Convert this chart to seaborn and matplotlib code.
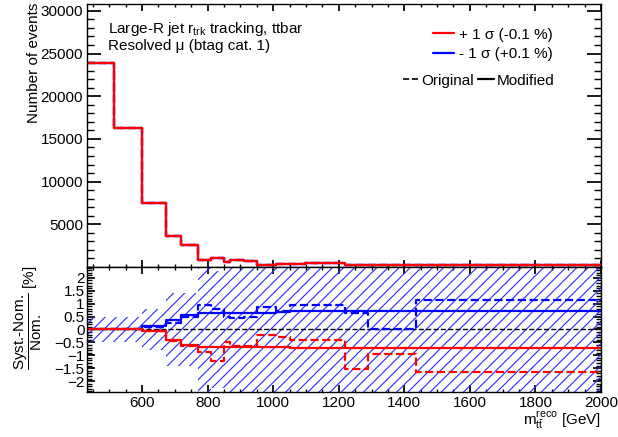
import numpy as np
import pandas as pd
import matplotlib
matplotlib.use("Agg")
import matplotlib.pyplot as plt
from matplotlib.ticker import MultipleLocator, FixedLocator, FuncFormatter
from matplotlib.lines import Line2D
import seaborn as sns

# bin edges of m_tt reco [GeV]
edges = [433, 514, 600, 672, 720, 770, 811, 851, 869, 910, 952, 1008, 1052, 1098, 1218, 1288, 1435, 2000]
# events per bin (nominal / variations overlap in the upper pad)
counts = [23850, 16310, 7530, 3630, 2580, 820, 1090, 550, 780, 670, 270, 320, 320, 500, 200, 200, 180]

# (Syst - Nom) / Nom [%]
up_modified = [0, 0, -0.05, -0.40, -0.60, -0.66, -0.66, -0.66, -0.67, -0.67, -0.68, -0.68, -0.70, -0.70, -0.73, -0.73, -0.73]
up_original = [0, 0, -0.07, -0.43, -0.63, -0.89, -1.21, -0.47, -0.62, -0.62, -0.20, -0.30, -0.39, -0.39, -1.54, -0.93, -1.64]
down_modified = [0, 0, 0.12, 0.35, 0.57, 0.63, 0.63, 0.64, 0.64, 0.65, 0.65, 0.66, 0.72, 0.72, 0.70, 0.70, 0.70]
down_original = [0, 0, 0.09, 0.25, 0.50, 0.94, 0.81, 0.50, 0.44, 0.50, 0.86, 0.72, 0.95, 0.95, 0.65, 0.0, 1.16]
# stat. uncertainty band (half width, %)
stat_band = [0.5, 0.48, 0.8, 1.4, 1.4, 3.0, 2.25, 3.0, 3.0, 3.0, 3.0, 3.0, 3.0, 3.0, 3.0, 3.0, 3.0]

legend_labels = ["+ 1 \u03c3 (-0.1 %)", "- 1 \u03c3 (+0.1 %)"]

sns.set_theme(style="ticks")
plt.rcParams["font.family"] = ["Liberation Sans", "DejaVu Sans"]
plt.rcParams["mathtext.fontset"] = "custom"
plt.rcParams["mathtext.rm"] = "Liberation Sans"
plt.rcParams["mathtext.it"] = "Liberation Sans:italic"
plt.rcParams["mathtext.bf"] = "Liberation Sans:bold"
plt.rcParams["hatch.linewidth"] = 0.8
plt.rcParams["axes.linewidth"] = 1.0
for k in ["text.color", "axes.labelcolor", "xtick.color", "ytick.color", "axes.edgecolor"]:
    plt.rcParams[k] = "black"

FS = 11


def steps(vals):
    # repeat last value so steps-post closes the last bin
    return pd.DataFrame({"x": edges, "y": list(vals) + [vals[-1]]})


fig = plt.figure(figsize=(6.18, 4.37), dpi=100)
ax = fig.add_axes([0.1413, 0.389, 0.8312, 0.6018])
rx = fig.add_axes([0.1413, 0.103, 0.8312, 0.286], sharex=ax)

# upper pad
for col, ls in [("blue", "--"), ("red", "--"), ("blue", "-"), ("red", "-")]:
    sns.lineplot(data=steps(counts), x="x", y="y", ax=ax, color=col, linestyle=ls,
                 drawstyle="steps-post", linewidth=1.6, estimator=None)
ax.set_xlim(433, 2000)
ax.set_ylim(0, 30800)
ax.yaxis.set_major_locator(FixedLocator([5000, 10000, 15000, 20000, 25000, 30000]))
ax.yaxis.set_minor_locator(MultipleLocator(1000))
ax.xaxis.set_major_locator(MultipleLocator(200))
ax.xaxis.set_minor_locator(MultipleLocator(50))
ax.tick_params(axis="x", which="major", direction="in", length=5, top=True, labelbottom=False)
ax.tick_params(axis="x", which="minor", direction="in", length=2.5, top=True)
ax.tick_params(axis="y", which="major", direction="in", length=10, right=True, labelsize=FS, pad=3)
ax.tick_params(axis="y", which="minor", direction="in", length=5, right=True)
ax.set_xlabel("")
ax.set_ylabel("")

ax.text(0.04, 0.905, "Large-R jet r$_{\\mathrm{trk}}$ tracking, ttbar", transform=ax.transAxes,
        fontsize=FS, va="center")
ax.text(0.04, 0.842, "Resolved \u03bc (btag cat. 1)", transform=ax.transAxes, fontsize=FS, va="center")

h1 = [Line2D([], [], color="red", lw=1.6), Line2D([], [], color="blue", lw=1.6)]
leg1 = ax.legend(h1, legend_labels, loc="upper right", bbox_to_anchor=(560 / 618, 1 - 20 / 437),
                 bbox_transform=fig.transFigure, frameon=False, fontsize=FS, handlelength=1.4,
                 handletextpad=0.3, borderpad=0, labelspacing=0.35)
ax.add_artist(leg1)
h2 = [Line2D([], [], color="black", lw=1.2, ls="--"), Line2D([], [], color="black", lw=1.6)]
ax.legend(h2, ["Original", "Modified"], loc="upper right", bbox_to_anchor=(562 / 618, 1 - 66 / 437),
          bbox_transform=fig.transFigure, frameon=False, fontsize=FS, ncol=2, handlelength=1.0,
          handletextpad=0.2, columnspacing=0.3, borderpad=0)

# lower pad
band_hi = list(stat_band) + [stat_band[-1]]
band_lo = [-v for v in band_hi]
rx.fill_between(edges, band_lo, band_hi, step="post", facecolor="none", edgecolor="#2a2aff",
                hatch="///", linewidth=0)
rx.axhline(0, color="black", linestyle="--", linewidth=1.0)
for vals, col, ls in [(down_original, "blue", "--"), (up_original, "red", "--"),
                      (down_modified, "blue", "-"), (up_modified, "red", "-")]:
    sns.lineplot(data=steps(vals), x="x", y="y", ax=rx, color=col, linestyle=ls,
                 drawstyle="steps-post", linewidth=1.6, estimator=None)
rx.set_ylim(-2.42, 2.42)
rx.yaxis.set_major_locator(MultipleLocator(0.5))
rx.yaxis.set_minor_locator(MultipleLocator(0.1))
rx.yaxis.set_major_formatter(FuncFormatter(lambda v, p: ("%g" % v).replace("-", "\u2212")))
rx.tick_params(axis="x", which="major", direction="in", length=5, top=True, labelsize=FS, pad=3)
rx.tick_params(axis="x", which="minor", direction="in", length=2.5, top=True)
rx.tick_params(axis="y", which="major", direction="in", length=6, right=True, labelsize=FS, pad=2)
rx.tick_params(axis="y", which="minor", direction="in", length=3.5, right=True)
rx.set_xlabel("")
rx.set_ylabel("")
rx.set_xlim(433, 2000)

fig.text(34 / 618, 1 - 3 / 437, "Number of events", rotation=90, ha="center", va="top", fontsize=FS)
fig.text(28 / 618, 1 - 318 / 437, r"$\dfrac{\text{Syst.-Nom.}}{\text{Nom.}}$ [%]", rotation=90,
         ha="center", va="center", fontsize=FS)
fig.text(601 / 618, 1 - 420 / 437, r"m$_{\mathrm{t\bar{t}}}^{\mathrm{reco}}$ [GeV]", ha="right",
         va="center", fontsize=FS)

fig.savefig("out.png", dpi=100)
